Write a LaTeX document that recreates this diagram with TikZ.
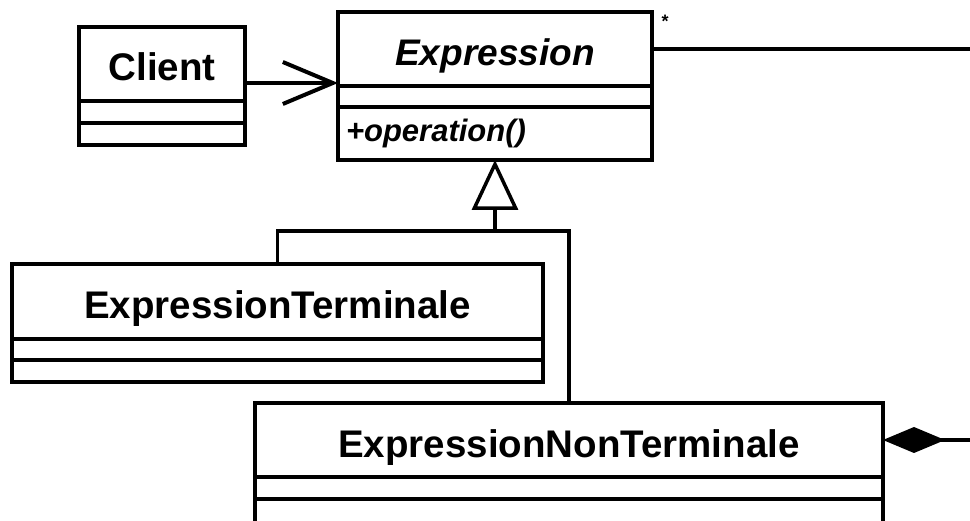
\documentclass[tikz,border=0pt]{standalone}
\usepackage{fontspec}
\setmainfont{Liberation Sans}
\usetikzlibrary{arrows.meta,positioning,fit}
\tikzset{
  classname/.style={draw=black, line width=4pt, outer sep=0pt, anchor=north west, text height=34pt, text depth=0pt, font=\fontsize{38.5}{40}\selectfont\bfseries},
  abstractname/.style={classname, font=\fontsize{37}{40}\selectfont\bfseries\itshape},
  compart/.style={draw=black, line width=4pt, outer sep=0pt, inner sep=0pt},
  opspart/.style={compart, inner xsep=8pt, align=left, font=\fontsize{31}{34}\selectfont\bfseries\itshape},
  classbox/.style={inner sep=0pt, outer sep=0pt},
  navarrow/.style={-{Straight Barb[length=50pt,width=42pt,line width=4pt]}, line width=4pt, black},
  genline/.style={line width=3.5pt, black},
  inherits/.style={-{Triangle[open,length=50pt,width=46pt,line width=3.5pt]}, line width=3.5pt, black},
  composes/.style={{Diamond[length=62pt,width=26pt]}-, line width=4pt, black},
  mult/.style={font=\fontsize{18}{20}\selectfont\bfseries, inner sep=0pt}
}

\begin{document}
\begin{tikzpicture}[x=1pt, y=-1pt]
    \useasboundingbox (0,0) rectangle (970,521);
    \clip (0,0) rectangle (970,521);
    % classes
    \node[classname, minimum width=166pt, minimum height=74pt] (client) at (79,27) {Client};
    \node[compart, below=0pt of client, minimum width=166pt, minimum height=22pt] (client-attr) {};
    \node[compart, below=0pt of client-attr, minimum width=166pt, minimum height=22pt] (client-ops) {};
    \node[classbox, fit=(client)(client-ops)] (clientbox) {};

    \node[abstractname, minimum width=314pt, minimum height=74pt] (expr) at (338,12) {Expression};
    \node[compart, below=0pt of expr, minimum width=314pt, minimum height=21pt] (expr-attr) {};
    \node[opspart, below=0pt of expr-attr, minimum width=314pt, text width=298pt, minimum height=53pt] (expr-ops) {+operation()};
    \node[classbox, fit=(expr)(expr-ops)] (exprbox) {};

    \node[classname, minimum width=531pt, minimum height=75pt] (term) at (12,264) {ExpressionTerminale};
    \node[compart, below=0pt of term, minimum width=531pt, minimum height=21pt] (term-attr) {};
    \node[compart, below=0pt of term-attr, minimum width=531pt, minimum height=22pt] (term-ops) {};

    \node[classname, minimum width=628pt, minimum height=74pt] (nonterm) at (255,403) {ExpressionNonTerminale};
    \node[compart, below=0pt of nonterm, minimum width=628pt, minimum height=22pt] (nonterm-attr) {};
    \node[compart, below=0pt of nonterm-attr, minimum width=628pt, minimum height=30pt] (nonterm-ops) {};

    \node[mult] (star) at (665,21) {*};
    \coordinate (junction) at (495,231);
    \coordinate (loop) at (1000,250);

    % connectors
    \draw[navarrow] ([yshift=3pt]clientbox.east) -- ([yshift=3pt]exprbox.west);
    \draw[genline] (term.north) |- (junction);
    \draw[genline] (nonterm.north) |- (junction);
    \draw[inherits] (junction) -- (exprbox.south);
    \draw[composes] (nonterm.east) -| (loop) |- (expr.east);
  \end{tikzpicture}
\end{document}
